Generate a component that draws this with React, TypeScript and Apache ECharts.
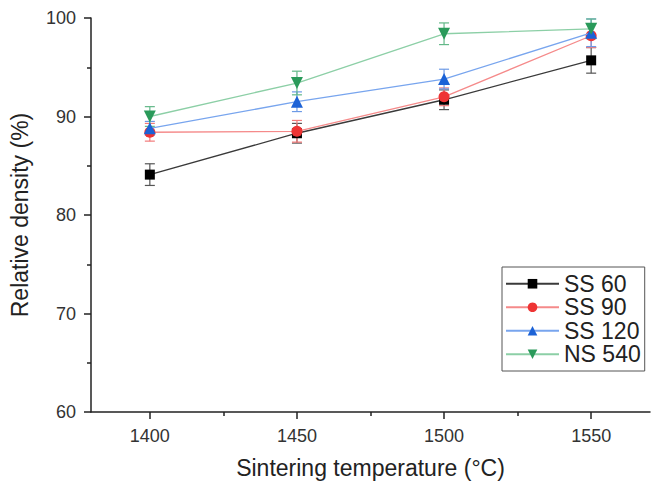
import React, { useEffect, useRef } from "react";
import * as echarts from "echarts";

const temperatures = [1400, 1450, 1500, 1550];
const seriesNames = ["SS 60", "SS 90", "SS 120", "NS 540"];
const ss60 = [84.1, 88.3, 91.7, 95.7];
const ss60Err = [1.1, 1.0, 1.0, 1.3];
const ss90 = [88.4, 88.5, 92.0, 98.2];
const ss90Err = [0.9, 1.1, 0.9, 1.2];
const ss120 = [88.8, 91.5, 93.8, 98.5];
const ss120Err = [0.7, 1.0, 1.0, 1.4];
const ns540 = [90.0, 93.4, 98.4, 98.9];
const ns540Err = [1.0, 1.2, 1.1, 1.0];
const majorTicks = [1400, 1450, 1500, 1550];
const minorTicks = [1425, 1475, 1525];

const FONT = "Liberation Sans, Arial, sans-serif";

const styles = [
  { marker: "#000000", line: "#3a3a3a", err: "#555555", symbol: "rect", size: 10, rotate: 0 },
  { marker: "#ee3434", line: "#f58a8a", err: "#f27a7a", symbol: "circle", size: 11, rotate: 0 },
  { marker: "#1c62d6", line: "#78a5ee", err: "#6d9ae6", symbol: "triangle", size: 12, rotate: 0 },
  { marker: "#2a9a5a", line: "#8ccfa6", err: "#63b888", symbol: "triangle", size: 12, rotate: 180 },
];

export default function App() {
  const ref = useRef<HTMLDivElement>(null);
  useEffect(() => {
    if (!ref.current) return;
    const chart = echarts.init(ref.current, null, { renderer: "svg" });
    const values = [ss60, ss90, ss120, ns540];
    const errs = [ss60Err, ss90Err, ss120Err, ns540Err];
    const series: any[] = [];
    values.forEach((vals, k) => {
      const st = styles[k];
      series.push({
        type: "custom",
        name: seriesNames[k] + " error",
        xAxisIndex: 0,
        yAxisIndex: 0,
        z: 2,
        data: temperatures.map((t, i) => [t, vals[i] - errs[k][i], vals[i] + errs[k][i]]),
        encode: { x: 0, y: [1, 2] },
        renderItem: (params: any, api: any) => {
          const x = api.value(0);
          const lo = api.coord([x, api.value(1)]);
          const hi = api.coord([x, api.value(2)]);
          const hw = 5;
          const style = { stroke: st.err, lineWidth: 1.2 };
          return {
            type: "group",
            children: [
              { type: "line", shape: { x1: lo[0], y1: lo[1], x2: hi[0], y2: hi[1] }, style },
              { type: "line", shape: { x1: lo[0] - hw, y1: lo[1], x2: lo[0] + hw, y2: lo[1] }, style },
              { type: "line", shape: { x1: hi[0] - hw, y1: hi[1], x2: hi[0] + hw, y2: hi[1] }, style },
            ],
          };
        },
      });
      series.push({
        type: "line",
        name: seriesNames[k],
        xAxisIndex: 0,
        yAxisIndex: 0,
        z: 3 + k,
        data: temperatures.map((t, i) => [t, vals[i]]),
        symbol: st.symbol,
        symbolSize: st.size,
        symbolRotate: st.rotate,
        showAllSymbol: true,
        itemStyle: { color: st.marker, borderWidth: 0 },
        lineStyle: { color: st.line, width: 1.3 },
      });
    });

    chart.setOption({
      animation: false,
      backgroundColor: "#ffffff",
      grid: { left: 89, top: 18, width: 561, height: 394, containLabel: false },
      legend: {
        data: seriesNames,
        orient: "vertical",
        left: 502,
        top: 267,
        padding: [5, 4, 5, 3],
        itemGap: 0,
        itemWidth: 53,
        itemHeight: 12,
        borderColor: "#555555",
        borderWidth: 1,
        textStyle: { fontFamily: FONT, fontSize: 23, lineHeight: 23.5, color: "#222222" },
      },
      xAxis: [
        {
          type: "value",
          min: 1380,
          max: 1570,
          name: "Sintering temperature (°C)",
          nameLocation: "middle",
          nameGap: 44,
          nameTextStyle: { fontFamily: FONT, fontSize: 23, color: "#222222" },
          axisLine: { show: true, lineStyle: { color: "#222222", width: 1.5 } },
          axisTick: { show: true, customValues: majorTicks, length: 7, lineStyle: { color: "#222222", width: 1.5 } },
          axisLabel: {
            customValues: majorTicks,
            margin: 15,
            fontFamily: FONT,
            fontSize: 18,
            color: "#333333",
            formatter: (v: number) => String(v),
          },
          splitLine: { show: false },
        },
        {
          type: "value",
          min: 1380,
          max: 1570,
          position: "bottom",
          axisLine: { show: false },
          axisTick: { show: true, customValues: minorTicks, length: 4, lineStyle: { color: "#222222", width: 1.5 } },
          axisLabel: { show: false },
          splitLine: { show: false },
        },
      ],
      yAxis: {
        type: "value",
        min: 60,
        max: 100,
        interval: 10,
        name: "Relative density (%)",
        nameLocation: "middle",
        nameGap: 60,
        nameTextStyle: { fontFamily: FONT, fontSize: 23, color: "#222222" },
        axisLine: { show: true, lineStyle: { color: "#222222", width: 1.5 } },
        axisTick: { show: true, length: 7, lineStyle: { color: "#222222", width: 1.5 } },
        minorTick: { show: true, splitNumber: 2, length: 4, lineStyle: { color: "#222222", width: 1.5 } },
        axisLabel: { margin: 15, fontFamily: FONT, fontSize: 18, color: "#333333" },
        splitLine: { show: false },
      },
      series,
    });
    return () => chart.dispose();
  }, []);
  return (
    <div
      ref={ref}
      style={{ position: "fixed", left: 0, top: 0, width: 659, height: 488, background: "#fff" }}
    />
  );
}
